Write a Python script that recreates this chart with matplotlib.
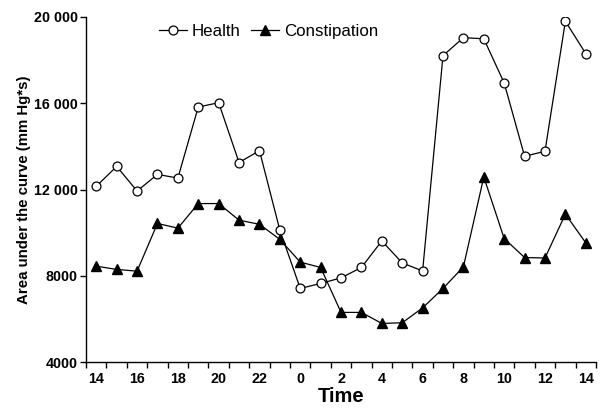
import matplotlib.pyplot as plt
from matplotlib.ticker import FixedLocator
import numpy as np

plt.rcParams['font.family'] = ['Liberation Sans', 'DejaVu Sans']

# hours from 14:00 through the night to 14:00 next day
hours = [14, 15, 16, 17, 18, 19, 20, 21, 22, 23, 0, 1, 2, 3, 4, 5, 6,
         7, 8, 9, 10, 11, 12, 13, 14]

health = [12150, 13070, 11930, 12700, 12530, 15820, 16020, 13250, 13800,
          10120, 7420, 7650, 7910, 8390, 9620, 8600, 8230, 18200, 19030,
          18980, 16930, 13540, 13770, 19790, 18290]

constipation = [8450, 8300, 8220, 10430, 10210, 11350, 11350, 10580, 10390,
                9690, 8640, 8390, 6310, 6310, 5800, 5830, 6520, 7420, 8420,
                12580, 9730, 8850, 8830, 10860, 9530]

ytick_vals = [4000, 8000, 12000, 16000, 20000]
ytick_labels = ['4000', '8000', '12 000', '16 000', '20 000']

x = np.arange(len(hours))

fig = plt.figure(figsize=(6.02, 4.08), dpi=100)
ax = fig.add_axes([0.143, 0.112, 0.847, 0.847])

ax.plot(x, health, color='black', lw=0.9, marker='o', ms=6.4,
        mfc='white', mec='black', mew=0.9, label='Health')
ax.plot(x, constipation, color='black', lw=0.9, marker='^', ms=7.5,
        mfc='black', mec='black', label='Constipation')

ax.set_xlim(-0.5, len(hours) - 0.5)
ax.set_ylim(4000, 20000)

# labels on every other hour, tick marks on the bin edges
ax.set_xticks(x[::2])
ax.set_xticklabels([str(h) for h in hours[::2]], fontweight='bold', fontsize=10.3)
ax.tick_params(axis='x', which='major', length=0, pad=7)
ax.xaxis.set_minor_locator(FixedLocator(np.arange(-0.5, len(hours), 1.0)))
ax.tick_params(axis='x', which='minor', length=4, width=1, direction='out')

ax.set_yticks(ytick_vals)
ax.set_yticklabels(ytick_labels, fontweight='bold', fontsize=10.3)
ax.tick_params(axis='y', length=4, width=1, direction='out', pad=2)

for s in ['top', 'right']:
    ax.spines[s].set_visible(False)
for s in ['left', 'bottom']:
    ax.spines[s].set_linewidth(1)

ax.set_xlabel('Time', fontweight='bold', fontsize=14.5, labelpad=1)
ax.set_ylabel('Area under the curve (mm Hg*s)', fontweight='bold',
              fontsize=10.8, labelpad=2)

ax.legend(loc='center left', bbox_to_anchor=(0.143, 0.957), ncol=2, frameon=False,
          fontsize=12.2, handlelength=1.65, columnspacing=0.6, handletextpad=0.3,
          borderpad=0, borderaxespad=0)

fig.savefig('out.png', dpi=100)
